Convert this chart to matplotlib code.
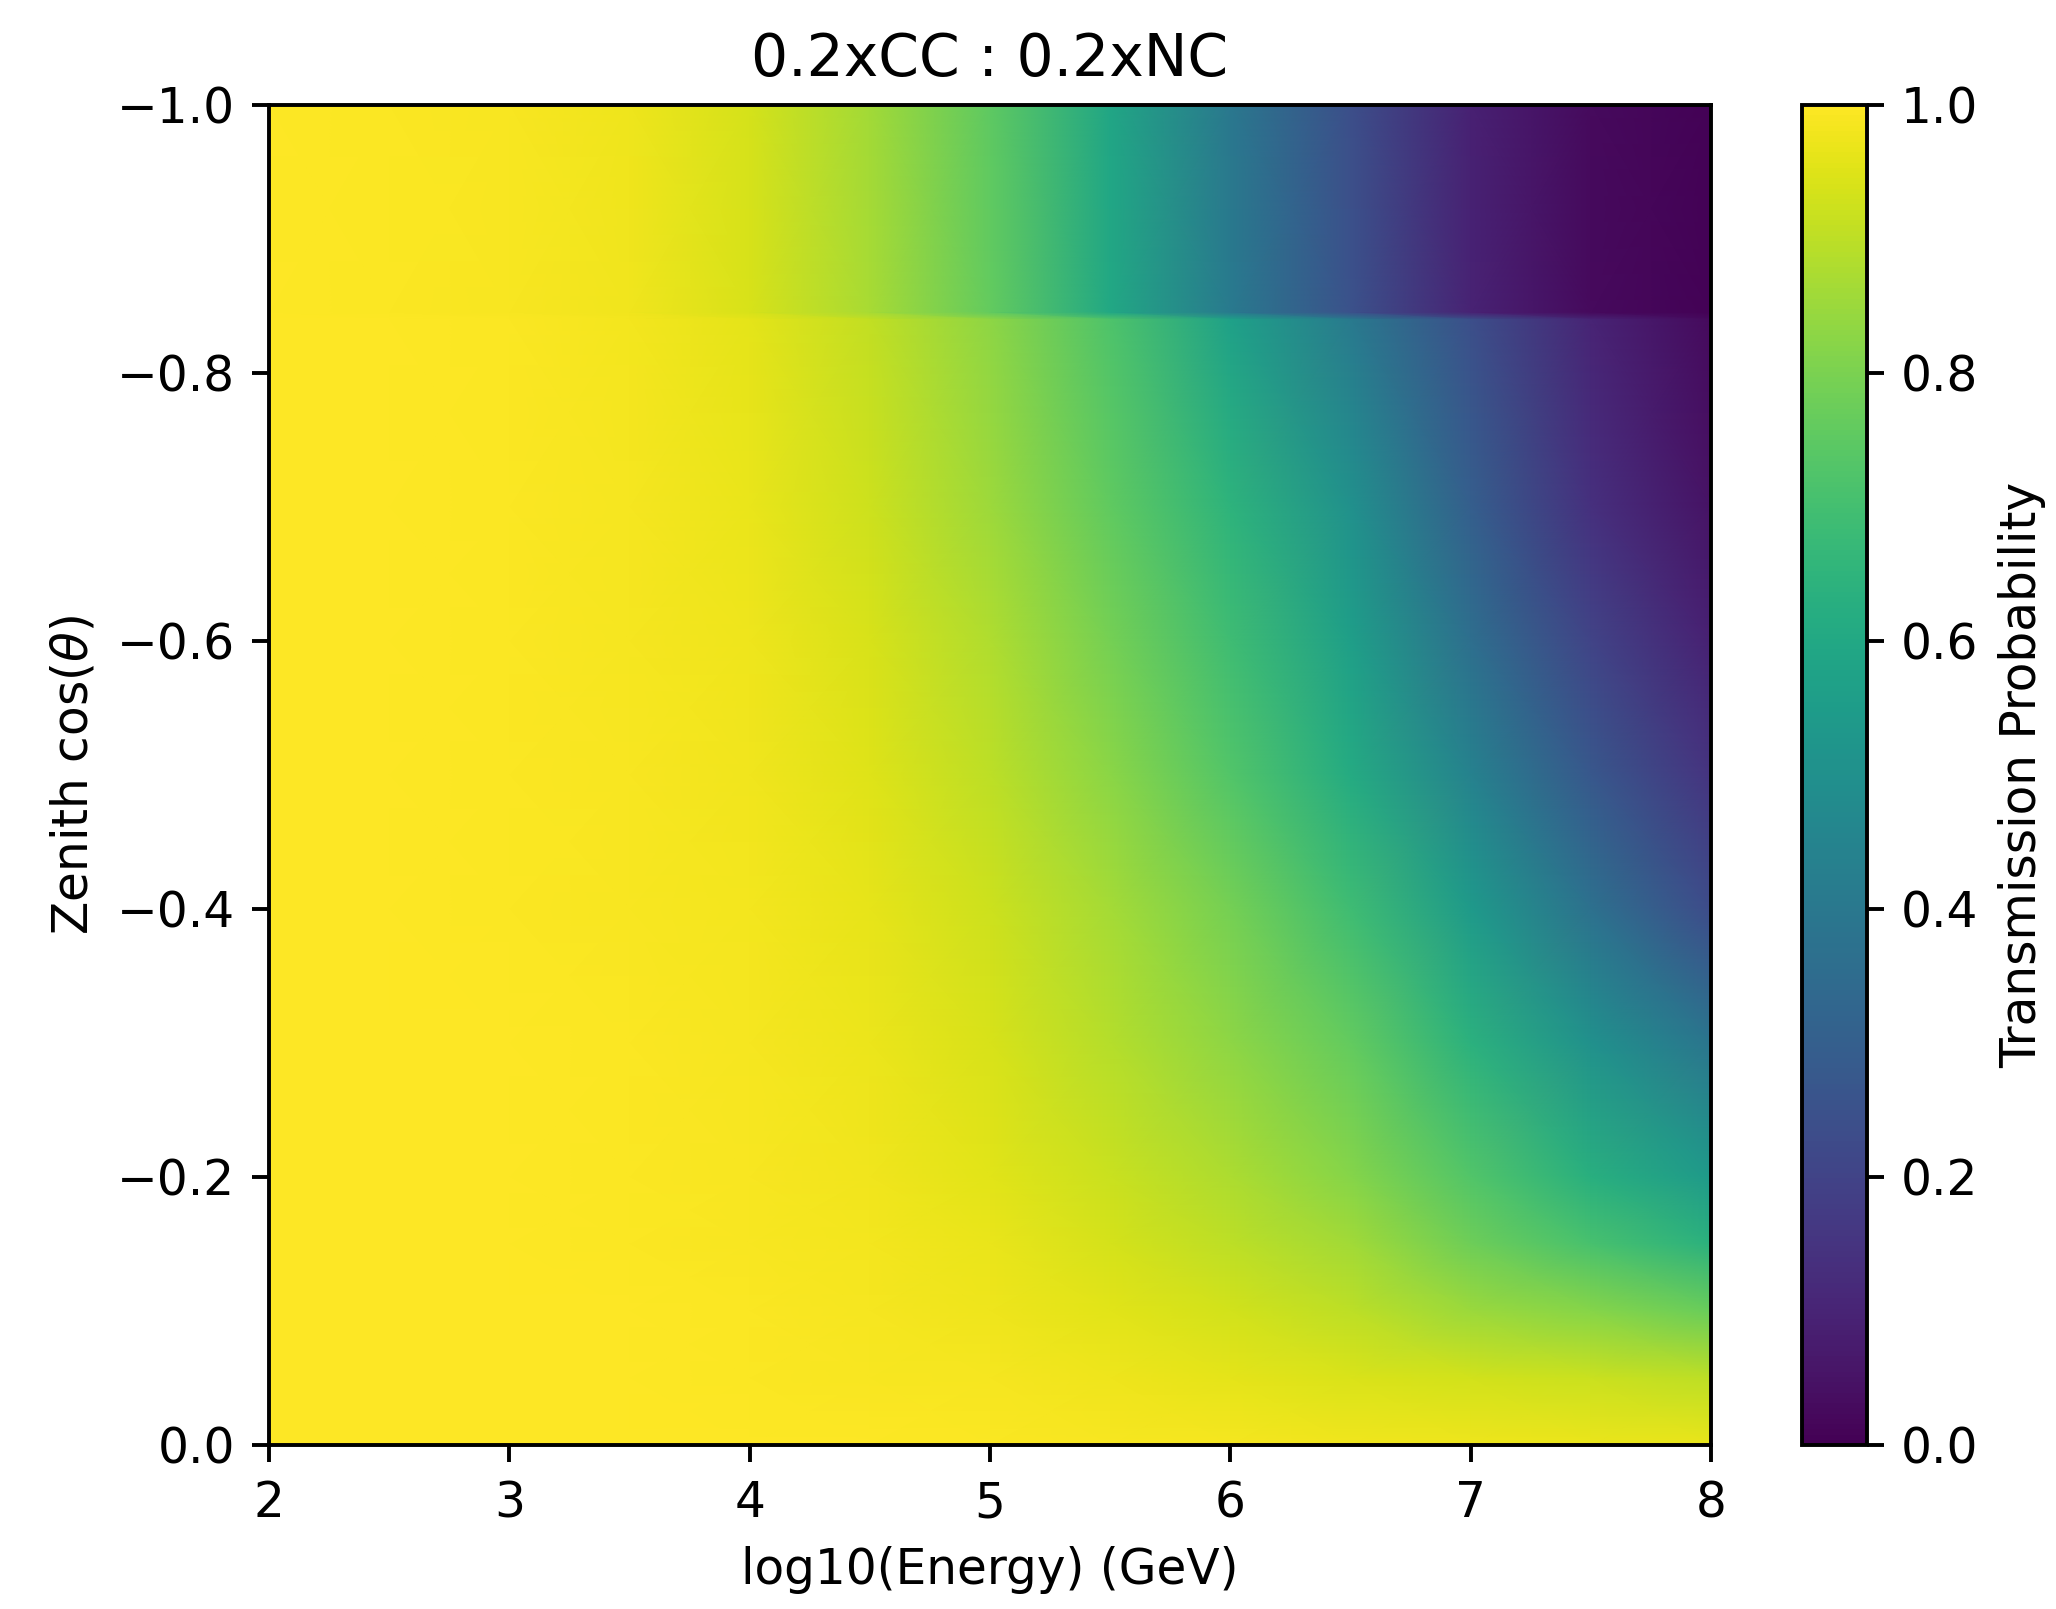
import numpy as np
import matplotlib
matplotlib.use("Agg")
import matplotlib.pyplot as plt

# log10(Energy) grid (GeV) and zenith cos(theta) rows
log_energy = [2.0, 2.5, 3.0, 3.5, 4.0, 4.5, 5.0, 5.5, 6.0, 6.5, 7.0, 7.5, 8.0]
cos_zenith = [-1.0, -0.845, -0.84, -0.7, -0.6, -0.5, -0.4, -0.3, -0.2, -0.15, -0.1, -0.05, 0.0]

# Transmission probability (rows follow cos_zenith)
row_m100 = [1.0, 0.995, 0.99, 0.975, 0.935, 0.86, 0.75, 0.59, 0.40, 0.24, 0.09, 0.025, 0.004]
row_m085 = [1.0, 0.995, 0.99, 0.977, 0.94, 0.87, 0.76, 0.60, 0.41, 0.25, 0.095, 0.027, 0.005]
row_m084 = [1.0, 0.997, 0.993, 0.983, 0.96, 0.91, 0.83, 0.72, 0.57, 0.41, 0.24, 0.10, 0.025]
row_m070 = [1.0, 0.997, 0.994, 0.986, 0.968, 0.925, 0.855, 0.755, 0.645, 0.50, 0.30, 0.14, 0.05]
row_m060 = [1.0, 0.998, 0.995, 0.988, 0.975, 0.94, 0.88, 0.79, 0.69, 0.56, 0.36, 0.20, 0.09]
row_m050 = [1.0, 0.998, 0.996, 0.990, 0.980, 0.952, 0.90, 0.825, 0.73, 0.61, 0.44, 0.27, 0.15]
row_m040 = [1.0, 0.998, 0.996, 0.991, 0.983, 0.963, 0.925, 0.865, 0.79, 0.69, 0.54, 0.37, 0.23]
row_m030 = [1.0, 0.999, 0.997, 0.993, 0.986, 0.970, 0.94, 0.89, 0.83, 0.76, 0.64, 0.50, 0.39]
row_m020 = [1.0, 0.999, 0.998, 0.995, 0.990, 0.977, 0.957, 0.92, 0.875, 0.82, 0.73, 0.63, 0.54]
row_m015 = [1.0, 0.999, 0.998, 0.996, 0.992, 0.982, 0.965, 0.937, 0.90, 0.86, 0.78, 0.71, 0.64]
row_m010 = [1.0, 1.0, 0.999, 0.997, 0.994, 0.987, 0.975, 0.955, 0.93, 0.90, 0.85, 0.82, 0.77]
row_m005 = [1.0, 1.0, 0.999, 0.998, 0.996, 0.992, 0.985, 0.975, 0.96, 0.945, 0.93, 0.92, 0.90]
row_000 = [1.0, 1.0, 1.0, 0.999, 0.998, 0.997, 0.995, 0.99, 0.985, 0.98, 0.975, 0.97, 0.965]

transmission = np.array([row_m100, row_m085, row_m084, row_m070, row_m060, row_m050,
                         row_m040, row_m030, row_m020, row_m015, row_m010, row_m005, row_000])

title = "0.2xCC : 0.2xNC"
xlabel = "log10(Energy) (GeV)"
ylabel = r"Zenith cos($\theta$)"
cbar_label = "Transmission Probability"
cbar_ticks = [0.0, 0.2, 0.4, 0.6, 0.8, 1.0]

W, H, DPI = 2056, 1609, 350
fig = plt.figure(figsize=(W / DPI, H / DPI), dpi=DPI)
ax = fig.add_axes([269 / W, (H - 1445) / H, 1442 / W, 1340 / H])
cax = fig.add_axes([1802 / W, (H - 1445) / H, 65 / W, 1340 / H])

X, Y = np.meshgrid(log_energy, cos_zenith)
mesh = ax.pcolormesh(X, Y, transmission, cmap="viridis", vmin=0, vmax=1, shading="gouraud")
ax.set_xlim(2, 8)
ax.set_ylim(0, -1)
ax.set_xticks([2, 3, 4, 5, 6, 7, 8])
ax.set_yticks([-1.0, -0.8, -0.6, -0.4, -0.2, 0.0])
ax.set_title(title, fontsize=12)
ax.set_xlabel(xlabel)
ax.set_ylabel(ylabel)

cb = fig.colorbar(mesh, cax=cax)
cb.set_ticks(cbar_ticks)
cb.set_label(cbar_label)

fig.savefig("out.png", dpi=DPI)
